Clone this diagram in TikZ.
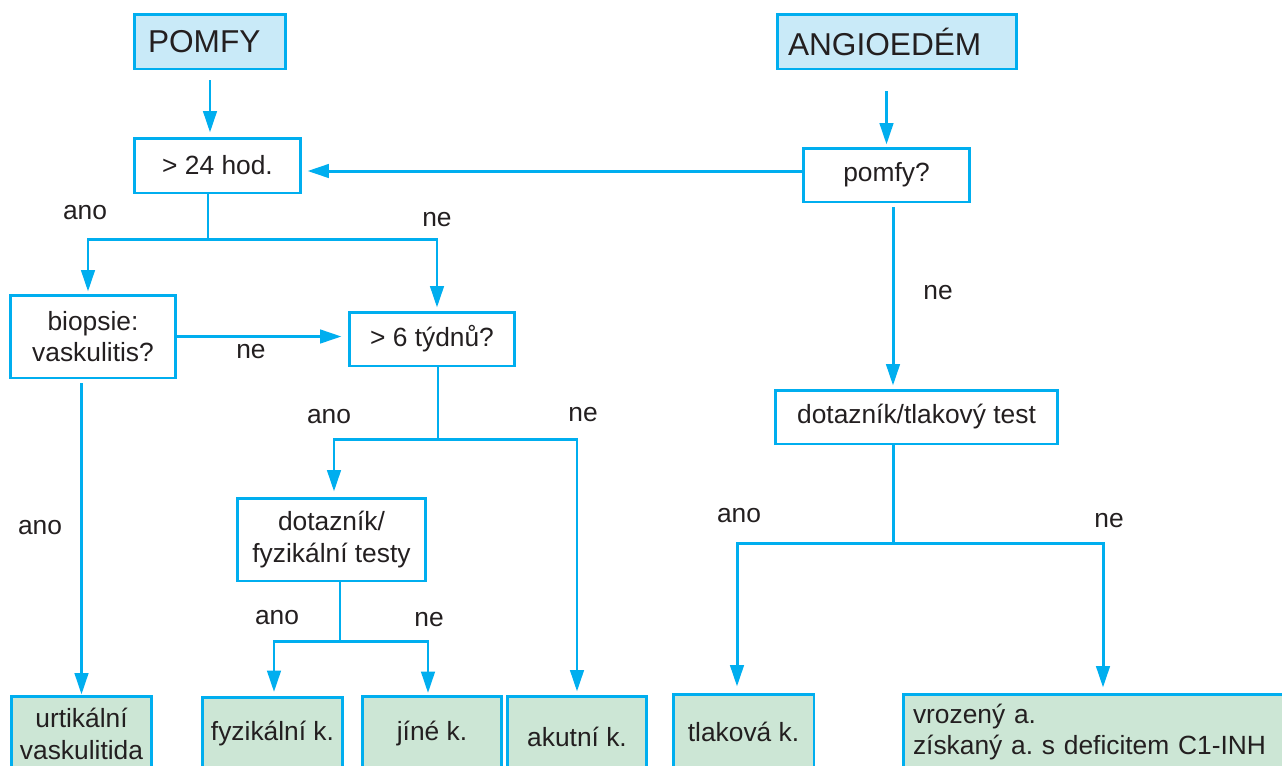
\documentclass[tikz,border=0pt]{standalone}
\usepackage{fontspec}
\setmainfont{Liberation Sans}
\usetikzlibrary{arrows.meta,positioning,calc}

\definecolor{ozcyan}{HTML}{00AEEF}
\definecolor{ozblue}{HTML}{C9EAF8}
\definecolor{ozgreen}{HTML}{CCE6D5}
\definecolor{oztext}{HTML}{231F20}

\frenchspacing

\begin{document}
\begin{tikzpicture}[
    x=0.02cm, y=-0.02cm,
    % Box styles
    headblock/.style={
        rectangle,
        draw=ozcyan,
        line width=1.7pt,
        fill=ozblue,
        text=oztext,
        align=left,
        minimum height=1.1cm,
        font=\fontsize{18}{21}\selectfont
    },
    askblock/.style={
        rectangle,
        draw=ozcyan,
        line width=1.7pt,
        fill=white,
        text=oztext,
        align=center,
        font=\fontsize{15}{18}\selectfont
    },
    endblock/.style={
        rectangle,
        draw=ozcyan,
        line width=1.7pt,
        fill=ozgreen,
        text=oztext,
        align=center,
        font=\fontsize{15}{18}\selectfont
    },
    lbl/.style={text=oztext, font=\fontsize{15}{18}\selectfont},
    line/.style={draw=ozcyan, line width=1.7pt, -{Triangle[length=0.43cm, width=0.27cm]}}
]

\useasboundingbox[fill=white] (0,0) rectangle (1282,765);

% Headers
\node[headblock, text width=2.48cm, inner xsep=0.28cm] (pomfyhead) at (210,41.5) {POMFY};
\node[headblock, text width=4.36cm, inner xsep=0.22cm] (angiohead) at (897,41.5) {ANGIOEDÉM};

% Questions
\node[askblock, minimum width=3.34cm, minimum height=1.1cm] (hod) at (217.5,165.5) {> 24 hod.};
\node[askblock, minimum width=3.34cm, minimum height=1.08cm] (pomfyq) at (886.5,175) {pomfy?};
\node[askblock, minimum width=3.32cm, minimum height=1.66cm] (biopsie) at (93,336.5) {biopsie:\\vaskulitis?};
\node[askblock, minimum width=3.32cm, minimum height=1.08cm] (tydnu) at (432,339) {> 6 týdnů?};
\node[askblock, minimum width=3.78cm, minimum height=1.66cm] (dotfyz) at (331.5,539.5) {dotazník/\\fyzikální testy};
\node[askblock, minimum width=5.66cm, minimum height=1.08cm] (dottlak) at (916.5,417) {dotazník/tlakový test};

% Results
\node[endblock, minimum width=2.82cm, minimum height=1.52cm] (urtik) at (81.5,734) {urtikální\\vaskulitida};
\node[endblock, minimum width=2.82cm, minimum height=1.46cm] (fyzk) at (272.5,734) {fyzikální k.};
\node[endblock, minimum width=2.8cm, minimum height=1.5cm] (jine) at (432,734) {jíné k.};
\node[endblock, minimum width=2.8cm, minimum height=1.64cm] (akut) at (577,737) {akutní k.};
\node[endblock, minimum width=2.82cm, minimum height=1.52cm] (tlak) at (743.5,732) {tlaková k.};
\node[endblock, align=left, text width=7.38cm, inner xsep=0.2cm, minimum height=1.52cm] (vroz) at (1097.5,732)
    {vrozený a.\\získaný a. s deficitem C1-INH};

% Connections
\draw[line, shorten <=0.2cm, shorten >=0.08cm] (pomfyhead.south) -- (pomfyhead.south |- hod.north);
\draw[line, shorten <=0.42cm, shorten >=0.04cm] (pomfyq.north |- angiohead.south) -- (pomfyq.north);
\draw[line, shorten >=0.1cm] ([yshift=0.08cm]pomfyq.west) -- ([yshift=0.08cm]pomfyq.west -| hod.east);

\draw[line, shorten >=0.04cm] ([xshift=-0.19cm]hod.south) -- ++(0,45) -| ([xshift=-0.1cm]biopsie.north);
\draw[line, shorten >=0.06cm] ([xshift=-0.19cm]hod.south) -- ++(0,45) -| ([xshift=0.1cm]tydnu.north);
\draw[line, shorten >=0.12cm] (biopsie.east) -- (biopsie.east -| tydnu.west);
\draw[line, shorten <=0.08cm] (biopsie.south -| urtik.north) -- (urtik.north);

\draw[line, shorten >=0.1cm] ([xshift=0.12cm]tydnu.south) -- ++(0,72) -| ([xshift=0.05cm]dotfyz.north);
\draw[line, shorten >=0.06cm] ([xshift=0.12cm]tydnu.south) -- ++(0,72) -| (akut.north);

\draw[line, shorten >=0.08cm] ([xshift=0.17cm]dotfyz.south) -- ++(0,59) -| ([xshift=0.03cm]fyzk.north);
\draw[line, shorten >=0.04cm] ([xshift=0.17cm]dotfyz.south) -- ++(0,59) -| ([xshift=-0.08cm]jine.north);

\draw[line, shorten <=0.08cm, shorten >=0.06cm] ([xshift=0.13cm]pomfyq.south) -- ([xshift=0.13cm]pomfyq.south |- dottlak.north);
\draw[line, shorten >=0.12cm] ([xshift=-0.47cm]dottlak.south) -- ++(0,98) -| ([xshift=-0.13cm]tlak.north);
\draw[line, shorten >=0.1cm] ([xshift=-0.47cm]dottlak.south) -- ++(0,98) -| ([xshift=0.11cm]vroz.north);

% Labels
\node[lbl] (ano1) at (85,213) {ano};
\node[lbl] (ne1) at (437,220) {ne};
\node[lbl] (ne2) at (251,352) {ne};
\node[lbl] (ano2) at (40,528) {ano};
\node[lbl] (ano3) at (329,417) {ano};
\node[lbl] (ne3) at (583,415) {ne};
\node[lbl] (ano4) at (277,618) {ano};
\node[lbl] (ne4) at (429,620) {ne};
\node[lbl] (ne5) at (938,293) {ne};
\node[lbl] (ano5) at (739,516) {ano};
\node[lbl] (ne6) at (1109,521) {ne};

\end{tikzpicture}
\end{document}
